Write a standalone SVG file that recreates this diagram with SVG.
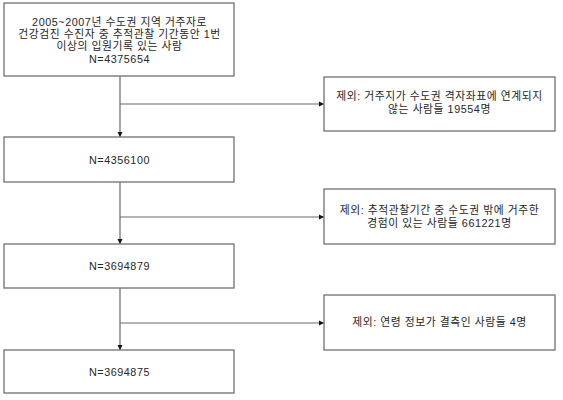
<svg xmlns="http://www.w3.org/2000/svg" width="563" height="400" viewBox="0 0 563 400">
<style>
.box{fill:#fff;stroke:#707070;stroke-width:1.3}
.t{font-family:"Liberation Sans","Noto Sans CJK KR",sans-serif;font-size:10.8px;letter-spacing:0.55px;fill:#262626;text-anchor:middle}
.c{fill:none;stroke:#6a6a6a;stroke-width:1.2}
</style>
<defs>
<marker id="ah" markerWidth="6" markerHeight="6" refX="5" refY="3" orient="auto" markerUnits="userSpaceOnUse">
<path d="M0,0.5 L5,3 L0,5.5 Z" fill="#111"/>
</marker>
</defs>
<rect width="563" height="400" fill="#fff"/>
<g id="connectors">
<path class="c" d="M120,76 V137" marker-end="url(#ah)"/>
<path class="c" d="M120,104 H324" marker-end="url(#ah)"/>
<path class="c" d="M120,182 V244" marker-end="url(#ah)"/>
<path class="c" d="M120,217 H324" marker-end="url(#ah)"/>
<path class="c" d="M120,288 V350" marker-end="url(#ah)"/>
<path class="c" d="M120,323 H324" marker-end="url(#ah)"/>
</g>
<g id="n1">
<rect class="box" x="4" y="3" width="230" height="73"/>
<text class="t" x="119.5" y="25.6">2005~2007년 수도권 지역 거주자로</text>
<text class="t" x="119.5" y="37.9">건강검진 수진자 중 추적관찰 기간동안 1번</text>
<text class="t" x="119.5" y="50.2">이상의 입원기록 있는 사람</text>
<text class="t" x="119.5" y="62.5">N=4375654</text>
</g>
<g id="n2">
<rect class="box" x="4" y="137" width="230" height="45"/>
<text class="t" x="119.5" y="164">N=4356100</text>
</g>
<g id="n3">
<rect class="box" x="4" y="244" width="230" height="44"/>
<text class="t" x="119.5" y="270">N=3694879</text>
</g>
<g id="n4">
<rect class="box" x="4" y="350" width="230" height="43"/>
<text class="t" x="119.5" y="375.5">N=3694875</text>
</g>
<g id="e1">
<rect class="box" x="324" y="77" width="231" height="54"/>
<text class="t" x="439.5" y="100">제외: 거주지가 수도권 격자좌표에 연계되지</text>
<text class="t" x="439.5" y="112.8">않는 사람들 19554명</text>
</g>
<g id="e2">
<rect class="box" x="324" y="189" width="231" height="55"/>
<text class="t" x="439.5" y="214.3">제외: 추적관찰기간 중 수도권 밖에 거주한</text>
<text class="t" x="439.5" y="227.3">경험이 있는 사람들 661221명</text>
</g>
<g id="e3">
<rect class="box" x="324" y="295" width="231" height="55"/>
<text class="t" x="439.5" y="326">제외: 연령 정보가 결측인 사람들 4명</text>
</g>
</svg>
